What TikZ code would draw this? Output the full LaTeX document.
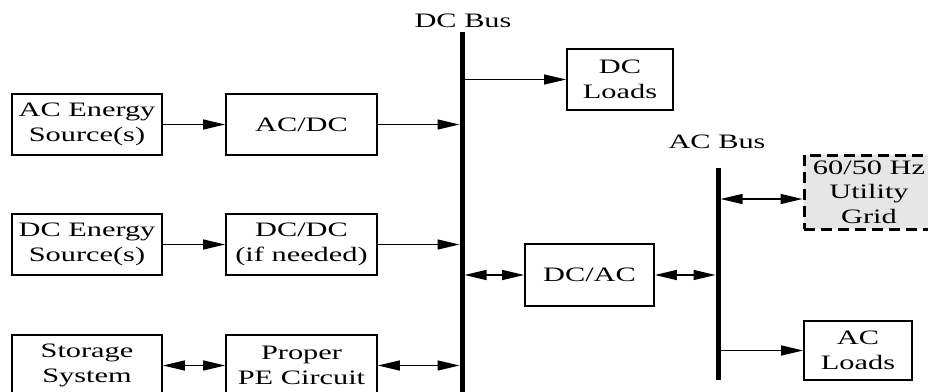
\documentclass[tikz,border=0pt]{standalone}
\usepackage{fontspec}
\setmainfont{Liberation Serif}[FakeStretch=1.48]
\usetikzlibrary{arrows.meta}
\definecolor{gridfill}{HTML}{E6E6E6}
\begin{document}
\begin{tikzpicture}[x=1pt,y=-1pt,
  txt/.style={font=\fontsize{20.5}{24.5}\selectfont, align=center},
  box/.style={txt, draw, line width=1.7pt, inner sep=0pt},
  tip/.tip={Triangle[length=22pt,width=10pt]},
  arr/.style={line width=1.4pt, -tip},
  biarr/.style={line width=1.4pt, tip-tip},
  thinarr/.style={line width=0.9pt, -tip},
  bus/.style={line width=5pt}]
\useasboundingbox (0,0) rectangle (928,391);
\clip (0,0) rectangle (928,391);
% boxes
\node[box, minimum width=150pt, minimum height=61pt] (acs) at (87,124.5) {AC Energy\\Source(s)};
\node[box, minimum width=151pt, minimum height=61pt] (acdc) at (301.5,124.5) {AC/DC};
\node[box, minimum width=150pt, minimum height=61pt] (dcs) at (87,244.5) {DC Energy\\Source(s)};
\node[box, minimum width=151pt, minimum height=61pt] (dcdc) at (301.5,244.5) {DC/DC\\(if needed)};
\node[box, minimum width=150pt, minimum height=61pt] (sto) at (87,365.5) {Storage\\System};
\node[box, minimum width=151pt, minimum height=61pt] (pe) at (301.5,365.5) {Proper\\PE Circuit};
\node[box, minimum width=106pt, minimum height=61pt] (dcl) at (620,79.5) {DC\\Loads};
\node[box, minimum width=129pt, minimum height=62pt] (dcac) at (589.5,275) {DC/AC};
\node[draw, fill=gridfill, line width=3pt, dash pattern=on 11pt off 6pt,
      minimum width=150pt, minimum height=74pt, inner sep=0pt] (grid) at (879,192) {};
\node[txt] (gridtxt) at (869,192) {60/50 Hz\\Utility\\Grid};
\node[box, minimum width=108pt, minimum height=59pt] (acl) at (858,350.5) {AC\\Loads};
% buses
\coordinate (dcbT) at (462,32);
\coordinate (dcbB) at (462,400);
\coordinate (acbT) at (718,168);
\coordinate (acbB) at (718,380);
\draw[bus] (dcbT) -- (dcbB);
\draw[bus] (acbT) -- (acbB);
\node[txt, anchor=base] (dclab) at (463,27) {DC Bus};
\node[txt, anchor=base] (aclab) at (717,148) {AC Bus};
% connectors
\draw[arr] (acs.east) -- (acdc.west);
\draw[arr, shorten >=2.5pt] (acdc.east) -- (acdc.east -| dcbT);
\draw[arr] (dcs.east) -- (dcdc.west);
\draw[arr, shorten >=2.5pt] (dcdc.east) -- (dcdc.east -| dcbT);
\draw[biarr] (sto.east) -- (pe.west);
\draw[biarr, shorten >=2.5pt] (pe.east) -- (pe.east -| dcbT);
\draw[thinarr, shorten <=2.5pt] (dcl.west -| dcbT) -- (dcl.west);
\draw[biarr, shorten <=2.5pt] (dcac.west -| dcbT) -- (dcac.west);
\draw[biarr, shorten >=2.5pt] (dcac.east) -- (dcac.east -| acbT);
\coordinate (gA) at (718,199);
\draw[biarr, shorten <=2.5pt] (gA) -- (gA -| grid.west);
\draw[arr, shorten <=2.5pt] (acl.west -| acbT) -- (acl.west);
\end{tikzpicture}
\end{document}
